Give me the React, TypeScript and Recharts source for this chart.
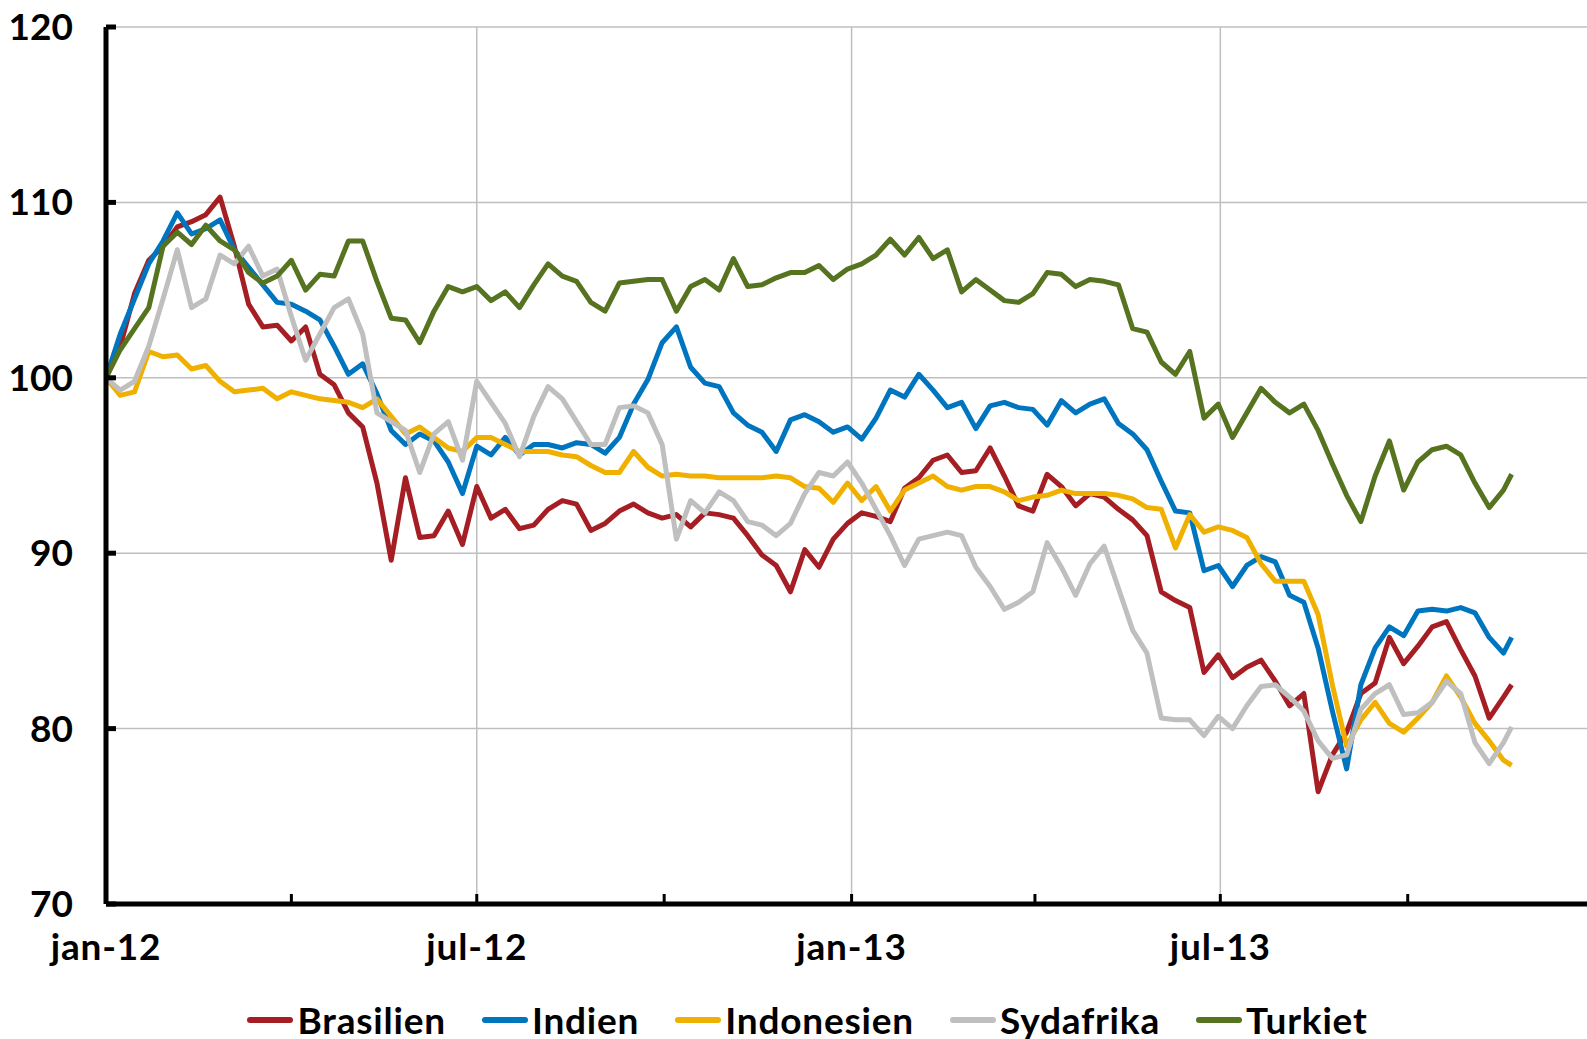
import React from 'react';
import { LineChart, Line, XAxis, YAxis, CartesianGrid, Legend } from 'recharts';

// Weekly observations (days since 1 Jan 2012), last point = latest day
const days: number[] = Array.from({ length: 99 }, (_, i) => i * 7).concat([690]);

const brasilien = [
  100, 101.8, 104.8, 106.7, 107.5, 108.6, 108.9, 109.3, 110.3, 107.5,
  104.2, 102.9, 103.0, 102.1, 102.9, 100.2, 99.6, 98.0, 97.2, 94.0,
  89.6, 94.3, 90.9, 91.0, 92.4, 90.5, 93.8, 92.0, 92.5, 91.4,
  91.6, 92.5, 93.0, 92.8, 91.3, 91.7, 92.4, 92.8, 92.3, 92.0,
  92.2, 91.5, 92.3, 92.2, 92.0, 91.0, 89.9, 89.3, 87.8, 90.2,
  89.2, 90.8, 91.7, 92.3, 92.1, 91.8, 93.7, 94.3, 95.3, 95.6,
  94.6, 94.7, 96.0, 94.4, 92.7, 92.4, 94.5, 93.8, 92.7, 93.4,
  93.2, 92.5, 91.9, 91.0, 87.8, 87.3, 86.9, 83.2, 84.2, 82.9,
  83.5, 83.9, 82.7, 81.3, 82.0, 76.4, 78.5, 79.8, 82.0, 82.6,
  85.2, 83.7, 84.7, 85.8, 86.1, 84.5, 83.0, 80.6, 81.8, 82.5,
];

const indien = [
  100, 102.5, 104.5, 106.5, 107.8, 109.4, 108.2, 108.5, 109.0, 107.3,
  106.3, 105.3, 104.3, 104.2, 103.8, 103.3, 101.8, 100.2, 100.8, 99.1,
  97.0, 96.2, 96.8, 96.4, 95.2, 93.4, 96.1, 95.6, 96.6, 95.6,
  96.2, 96.2, 96.0, 96.3, 96.2, 95.7, 96.6, 98.5, 99.9, 102.0,
  102.9, 100.6, 99.7, 99.5, 98.0, 97.3, 96.9, 95.8, 97.6, 97.9,
  97.5, 96.9, 97.2, 96.5, 97.7, 99.3, 98.9, 100.2, 99.3, 98.3,
  98.6, 97.1, 98.4, 98.6, 98.3, 98.2, 97.3, 98.7, 98.0, 98.5,
  98.8, 97.4, 96.8, 95.9, 94.1, 92.4, 92.3, 89.0, 89.3, 88.1,
  89.3, 89.8, 89.5, 87.6, 87.2, 84.6, 81.0, 77.7, 82.5, 84.6,
  85.8, 85.3, 86.7, 86.8, 86.7, 86.9, 86.6, 85.2, 84.3, 85.2,
];

const indonesien = [
  100, 99.0, 99.2, 101.5, 101.2, 101.3, 100.5, 100.7, 99.8, 99.2,
  99.3, 99.4, 98.8, 99.2, 99.0, 98.8, 98.7, 98.6, 98.3, 98.8,
  97.8, 96.8, 97.2, 96.6, 96.0, 95.8, 96.6, 96.6, 96.2, 95.8,
  95.8, 95.8, 95.6, 95.5, 95.0, 94.6, 94.6, 95.8, 94.9, 94.4,
  94.5, 94.4, 94.4, 94.3, 94.3, 94.3, 94.3, 94.4, 94.3, 93.8,
  93.7, 92.9, 94.0, 93.0, 93.8, 92.4, 93.6, 94.0, 94.4, 93.8,
  93.6, 93.8, 93.8, 93.5, 93.0, 93.2, 93.3, 93.6, 93.4, 93.4,
  93.4, 93.3, 93.1, 92.6, 92.5, 90.3, 92.2, 91.2, 91.5, 91.3,
  90.9, 89.4, 88.4, 88.4, 88.4, 86.5, 82.5, 79.0, 80.5, 81.5,
  80.3, 79.8, 80.6, 81.5, 83.0, 81.8, 80.3, 79.3, 78.2, 77.9,
];

const sydafrika = [
  100, 99.3, 99.8, 101.8, 104.5, 107.3, 104.0, 104.5, 107.0, 106.5,
  107.5, 105.8, 106.2, 103.5, 101.0, 102.5, 104.0, 104.5, 102.5, 98.0,
  97.5, 97.0, 94.6, 96.8, 97.5, 95.3, 99.8, 98.6, 97.4, 95.5,
  97.8, 99.5, 98.8, 97.5, 96.2, 96.2, 98.3, 98.4, 98.0, 96.2,
  90.8, 93.0, 92.3, 93.5, 93.0, 91.8, 91.6, 91.0, 91.7, 93.4,
  94.6, 94.4, 95.2, 94.0, 92.5, 91.0, 89.3, 90.8, 91.0, 91.2,
  91.0, 89.2, 88.1, 86.8, 87.2, 87.8, 90.6, 89.2, 87.6, 89.4,
  90.4, 88.0, 85.6, 84.3, 80.6, 80.5, 80.5, 79.6, 80.7, 80.0,
  81.3, 82.4, 82.5, 81.8, 81.0, 79.3, 78.3, 78.5, 81.1, 82.0,
  82.5, 80.8, 80.9, 81.5, 82.7, 82.0, 79.2, 78.0, 79.2, 80.1,
];

const turkiet = [
  100, 101.6, 102.8, 104.0, 107.5, 108.3, 107.6, 108.7, 107.8, 107.3,
  106.0, 105.4, 105.8, 106.7, 105.0, 105.9, 105.8, 107.8, 107.8, 105.5,
  103.4, 103.3, 102.0, 103.8, 105.2, 104.9, 105.2, 104.4, 104.9, 104.0,
  105.3, 106.5, 105.8, 105.5, 104.3, 103.8, 105.4, 105.5, 105.6, 105.6,
  103.8, 105.2, 105.6, 105.0, 106.8, 105.2, 105.3, 105.7, 106.0, 106.0,
  106.4, 105.6, 106.2, 106.5, 107.0, 107.9, 107.0, 108.0, 106.8, 107.3,
  104.9, 105.6, 105.0, 104.4, 104.3, 104.8, 106.0, 105.9, 105.2, 105.6,
  105.5, 105.3, 102.8, 102.6, 100.9, 100.2, 101.5, 97.7, 98.5, 96.6,
  98.0, 99.4, 98.6, 98.0, 98.5, 97.0, 95.1, 93.3, 91.8, 94.4,
  96.4, 93.6, 95.2, 95.9, 96.1, 95.6, 94.0, 92.6, 93.6, 94.5,
];

const seriesNames = ['Brasilien', 'Indien', 'Indonesien', 'Sydafrika', 'Turkiet'];
const seriesColors = ['#A51E24', '#0075BF', '#F0B000', '#BFBFBF', '#56731F'];
const seriesValues = [brasilien, indien, indonesien, sydafrika, turkiet];

const xTicks = [0, 91, 182, 274, 366, 456, 547, 639];
const xTickLabels: Record<number, string> = { 0: 'jan-12', 182: 'jul-12', 366: 'jan-13', 547: 'jul-13' };
const xGrid = [182, 366, 547];
const yTicks = [70, 80, 90, 100, 110, 120];
const yGrid = [80, 90, 100, 110, 120];

const data = days.map((d, i) => {
  const row: Record<string, number> = { day: d };
  seriesNames.forEach((n, k) => {
    row[n] = seriesValues[k][i];
  });
  return row;
});

const FONT = 'Lato, "Open Sans", sans-serif';
const FS = 37;

const XTick = (props: any) => {
  const { x, y, payload } = props;
  const label = xTickLabels[payload.value] ?? '';
  return (
    <g>
      <line x1={x} x2={x} y1={y - 10} y2={y} stroke="#000" strokeWidth={3} />
      {label && (
        <text x={x} y={y + 56} textAnchor="middle" fontFamily={FONT} fontWeight={700} fontSize={FS} letterSpacing={0.8} fill="#000">
          {label}
        </text>
      )}
    </g>
  );
};

const YTick = (props: any) => {
  const { x, y, payload } = props;
  return (
    <g>
      <line x1={x} x2={x + 10} y1={y} y2={y} stroke="#000" strokeWidth={5} />
      <text x={x - 33} y={y + 13} textAnchor="end" fontFamily={FONT} fontWeight={700} fontSize={FS} fill="#000">
        {payload.value}
      </text>
    </g>
  );
};

const LegendContent = () => (
  <div
    style={{
      height: 60,
      boxSizing: 'border-box',
      paddingTop: 22,
      paddingLeft: 28,
      display: 'flex',
      justifyContent: 'center',
      alignItems: 'center',
      gap: 36,
    }}
  >
    {seriesNames.map((n, k) => (
      <div key={n} style={{ display: 'flex', alignItems: 'center', height: 36 }}>
        <span
          style={{
            display: 'inline-block',
            width: 46,
            height: 6,
            borderRadius: 3,
            background: seriesColors[k],
            marginRight: 4,
          }}
        />
        <span
          style={{
            display: 'inline-block',
            height: 36,
            overflow: 'visible',
            fontFamily: FONT,
            fontWeight: 700,
            fontSize: FS,
            lineHeight: '36px',
            letterSpacing: 0.8,
            color: '#000',
          }}
        >
          {n}
        </span>
      </div>
    ))}
  </div>
);

export default function App() {
  return (
    <div style={{ position: 'absolute', left: 0, top: 0, width: 1587, height: 1039, background: '#fff' }}>
      <LineChart width={1587} height={1039} data={data} margin={{ top: 27, right: 0, left: 0, bottom: 0 }}>
        <CartesianGrid
          stroke="#BFBFBF"
          strokeWidth={1.5}
          horizontalValues={yGrid}
          verticalValues={xGrid}
        />
        <XAxis
          dataKey="day"
          type="number"
          domain={[0, 727]}
          ticks={xTicks}
          interval={0}
          tick={<XTick />}
          tickLine={false}
          tickSize={0}
          tickMargin={0}
          height={75}
          axisLine={{ stroke: '#000', strokeWidth: 5 }}
          allowDataOverflow
        />
        <YAxis
          type="number"
          domain={[70, 120]}
          ticks={yTicks}
          interval={0}
          tick={<YTick />}
          tickLine={false}
          tickSize={0}
          tickMargin={0}
          width={106}
          axisLine={{ stroke: '#000', strokeWidth: 5 }}
          allowDataOverflow
        />
        <Legend verticalAlign="bottom" content={<LegendContent />} wrapperStyle={{ left: 0, width: 1587 }} />
        {seriesNames.map((n, k) => (
          <Line
            key={n}
            type="linear"
            dataKey={n}
            stroke={seriesColors[k]}
            strokeWidth={5}
            strokeLinejoin="round"
            dot={false}
            activeDot={false}
            isAnimationActive={false}
          />
        ))}
      </LineChart>
    </div>
  );
}
